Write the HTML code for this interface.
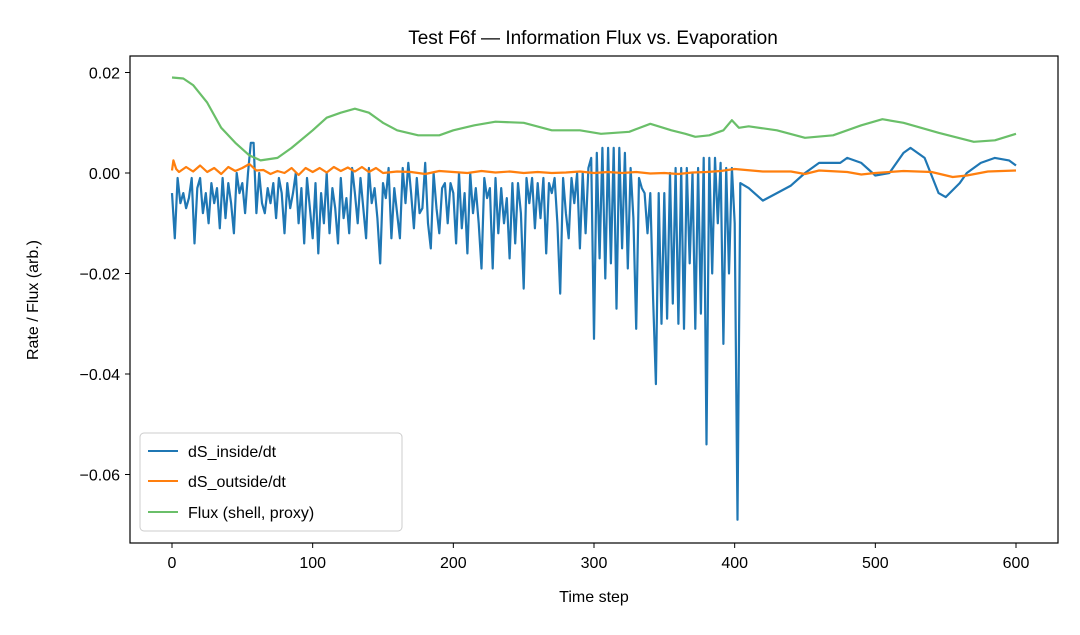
<!DOCTYPE html>
<html><head><meta charset="utf-8"><style>
body{margin:0;background:#fff}
svg text{font-family:"Liberation Sans","DejaVu Sans",sans-serif;fill:#000}
</style></head><body>
<svg id="chart" width="1080" height="630" xmlns="http://www.w3.org/2000/svg">
<rect width="1080" height="630" fill="#fff"/>
<text x="593" y="44" font-size="19" text-anchor="middle">Test F6f — Information Flux vs. Evaporation</text>
<g id="plot"></g>
<rect x="130" y="56" width="928" height="487" fill="none" stroke="#000" stroke-width="1.2"/>
<g id="xt"></g><g id="yt"></g>
<text x="594" y="602" font-size="16" text-anchor="middle">Time step</text>
<text transform="translate(38,300) rotate(-90)" font-size="16" text-anchor="middle">Rate / Flux (arb.)</text>
<g>
<rect x="140" y="433" width="262" height="98" rx="4" fill="#fff" fill-opacity="0.8" stroke="#ccc"/>
<line x1="148" y1="451" x2="178" y2="451" stroke="#1f77b4" stroke-width="2"/>
<text x="188" y="457" font-size="16">dS_inside/dt</text>
<line x1="148" y1="481" x2="178" y2="481" stroke="#ff7f0e" stroke-width="2"/>
<text x="188" y="487" font-size="16">dS_outside/dt</text>
<line x1="148" y1="512" x2="178" y2="512" stroke="#6abf69" stroke-width="2"/>
<text x="188" y="518" font-size="16">Flux (shell, proxy)</text>
</g>
</svg>
<script>
const xTicks=[0,100,200,300,400,500,600];
const yTicks=[0.02,0,-0.02,-0.04,-0.06];
const yTickLabels=["0.02","0.00","−0.02","−0.04","−0.06"];
const insideT=[0,2,4,6,8,10,12,14,16,18,20,22,24,26,28,30,32,34,36,38,40,42,44,46,48,50,52,54,56,58,60,62,64,66,68,70,72,74,76,78,80,82,84,86,88,90,92,94,96,98,100,102,104,106,108,110,112,114,116,118,120,122,124,126,128,130,132,134,136,138,140,142,144,146,148,150,152,154,156,158,160,162,164,166,168,170,172,174,176,178,180,182,184,186,188,190,192,194,196,198,200,202,204,206,208,210,212,214,216,218,220,222,224,226,228,230,232,234,236,238,240,242,244,246,248,250,252,254,256,258,260,262,264,266,268,270,272,274,276,278,280,282,284,286,288,290,292,294,296,298,300,302,304,306,308,310,312,314,316,318,320,322,324,326,328,330,332,334,336,338,340,342,344,346,348,350,352,354,356,358,360,362,364,366,368,370,372,374,376,378,380,382,384,386,388,390,392,394,396,398,400,402,404,410,420,430,440,450,460,470,475,480,490,500,510,520,525,535,545,550,560,565,575,585,595,600];
const insideV=[-0.004,-0.013,-0.001,-0.006,-0.004,-0.007,-0.005,-0.001,-0.014,-0.003,-0.001,-0.008,-0.004,-0.010,-0.002,-0.006,-0.003,-0.011,-0.001,-0.009,-0.002,-0.006,-0.012,0.000,-0.004,-0.002,-0.008,0.000,0.006,0.006,-0.008,0.000,-0.006,-0.008,-0.003,-0.006,-0.002,-0.009,-0.001,-0.004,-0.012,-0.002,-0.007,-0.004,0.000,-0.010,-0.003,-0.014,-0.001,-0.007,-0.013,-0.002,-0.016,-0.004,-0.010,0.000,-0.012,-0.003,-0.007,-0.014,-0.001,-0.009,-0.005,-0.012,0.001,-0.004,-0.010,-0.001,-0.007,-0.013,0.001,-0.006,-0.003,-0.009,-0.018,-0.002,-0.005,0.001,-0.013,-0.003,-0.008,-0.013,0.001,-0.006,0.002,-0.004,-0.011,-0.001,-0.008,-0.007,0.002,-0.010,-0.015,0.000,-0.007,-0.012,-0.003,-0.002,-0.010,-0.002,-0.004,-0.014,0.000,-0.011,-0.004,-0.016,0.000,-0.008,-0.003,-0.010,-0.019,-0.001,-0.005,-0.003,-0.019,-0.001,-0.012,-0.003,-0.010,-0.005,-0.017,-0.002,-0.014,-0.002,-0.008,-0.023,-0.001,-0.006,-0.001,-0.011,-0.002,-0.009,-0.001,-0.016,-0.002,-0.004,-0.001,-0.010,-0.024,-0.001,-0.008,-0.013,-0.001,-0.006,0.000,-0.015,0.000,-0.012,0.001,0.003,-0.033,0.004,-0.017,0.005,-0.021,0.005,-0.018,0.005,-0.027,0.005,-0.015,0.004,-0.019,0.001,-0.009,-0.031,-0.001,-0.003,-0.004,-0.012,-0.004,-0.025,-0.042,-0.004,-0.030,-0.004,-0.029,0.000,-0.026,0.001,-0.030,0.001,-0.031,0.001,-0.018,0.000,-0.031,0.001,-0.028,0.003,-0.054,0.003,-0.020,0.003,-0.010,0.002,-0.034,0.001,-0.020,0.001,-0.010,-0.069,-0.002,-0.003,-0.0055,-0.004,-0.0025,0.000,0.002,0.002,0.002,0.003,0.002,-0.0005,0.000,0.004,0.005,0.003,-0.004,-0.0048,-0.002,0.000,0.002,0.003,0.0025,0.0015];
const outsideT=[0,1,3,5,10,15,20,25,30,35,40,45,50,55,60,65,70,75,80,85,90,95,100,105,110,115,120,125,130,135,140,145,150,160,170,180,190,200,210,220,230,240,250,260,270,280,290,300,310,320,330,340,350,360,370,380,390,400,420,440,450,460,480,490,500,520,540,555,565,580,600];
const outsideV=[0.0005,0.0025,0.0008,0.0002,0.0012,0.0003,0.0015,0.0002,0.0010,-0.0002,0.0012,0.0004,0.0010,0.0018,0.0005,0.0006,-0.0002,0.0004,0.0000,0.0010,-0.0004,0.0010,0.0002,0.0010,0.0001,0.0012,0.0004,0.0011,0.0003,0.0012,0.0002,0.0010,0.0000,0.0003,0.0002,-0.0002,0.0004,0.0002,0.0000,0.0004,0.0001,0.0003,0.0000,0.0002,0.0000,0.0001,0.0003,0.0000,0.0002,0.0000,0.0002,-0.0001,0.0000,-0.0002,0.0001,0.0002,0.0004,0.0008,0.0003,0.0003,-0.0002,0.0005,0.0002,-0.0003,0.0000,0.0004,0.0002,-0.0008,-0.0005,0.0003,0.0005];
const fluxT=[0,8,15,25,35,45,55,63,75,85,100,110,120,130,140,150,160,175,190,200,215,230,250,270,290,305,325,340,355,365,372,382,392,398,403,410,430,450,470,490,505,520,545,570,585,600];
const fluxV=[0.019,0.0188,0.0175,0.014,0.009,0.006,0.0035,0.0025,0.003,0.005,0.0085,0.011,0.012,0.0128,0.012,0.010,0.0085,0.0075,0.0075,0.0085,0.0095,0.0102,0.010,0.0085,0.0085,0.0078,0.0082,0.0098,0.0085,0.0078,0.0072,0.0075,0.0085,0.0105,0.009,0.0093,0.0085,0.007,0.0075,0.0095,0.0107,0.010,0.008,0.0062,0.0065,0.0078];

const NS='http://www.w3.org/2000/svg';
const X=t=>172+t*(844/600);
const Y=v=>173-v*(100.5/0.02);
const plot=document.getElementById('plot');
function line(ts,vs,color,name){
  const p=document.createElementNS(NS,'polyline');
  p.setAttribute('points',ts.map((t,i)=>X(t).toFixed(1)+','+Y(vs[i]).toFixed(1)).join(' '));
  p.setAttribute('fill','none');p.setAttribute('stroke',color);p.setAttribute('stroke-width','2.2');p.setAttribute('stroke-linejoin','round');
  
  
  plot.appendChild(p);
}
line(insideT,insideV,'#1f77b4','series-inside');
line(outsideT,outsideV,'#ff7f0e','series-outside');
line(fluxT,fluxV,'#6abf69','series-flux');
const xt=document.getElementById('xt');
xTicks.forEach(t=>{
  const l=document.createElementNS(NS,'line');
  l.setAttribute('x1',X(t));l.setAttribute('x2',X(t));l.setAttribute('y1',543);l.setAttribute('y2',548);l.setAttribute('stroke','#000');
  
  
  xt.appendChild(l);
  const s=document.createElementNS(NS,'text');
  s.setAttribute('x',X(t));s.setAttribute('y',568);s.setAttribute('font-size','16');s.setAttribute('text-anchor','middle');
  s.textContent=t;
  
  
  xt.appendChild(s);
});
const yt=document.getElementById('yt');
yTicks.forEach((v,i)=>{
  const l=document.createElementNS(NS,'line');
  l.setAttribute('x1',125);l.setAttribute('x2',130);l.setAttribute('y1',Y(v));l.setAttribute('y2',Y(v));l.setAttribute('stroke','#000');
  
  
  yt.appendChild(l);
  const s=document.createElementNS(NS,'text');
  s.setAttribute('x',120);s.setAttribute('y',Y(v)+6);s.setAttribute('font-size','16');s.setAttribute('text-anchor','end');
  s.textContent=yTickLabels[i];
  
  
  yt.appendChild(s);
});
</script>
</body></html>
